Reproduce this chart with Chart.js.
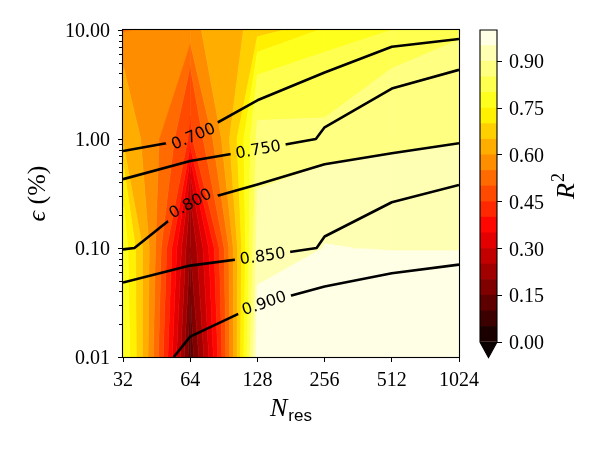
<!DOCTYPE html>
<html><head><meta charset="utf-8">
<script src="https://cdn.jsdelivr.net/npm/chart.js@4.4.0/dist/chart.umd.min.js"></script>
<style>
html,body{margin:0;padding:0;background:#fff;}
#wrap{position:relative;width:600px;height:450px;overflow:hidden;}
#main{position:absolute;left:0;top:0;}
#cbar{position:absolute;left:460px;top:0;}
</style></head><body>
<div id="wrap">
<canvas id="main" width="600" height="450"></canvas>
<canvas id="cbar" width="140" height="450"></canvas>
</div>
<script>
// ---------------- DATA ----------------
const nRes   = [32, 64, 128, 256, 512, 1024];     // grid columns (N_res)
const epsPct = [0.01, 0.1, 1, 10];                // grid rows (epsilon, %)

// R^2 (filled contours), one row per epsilon value, columns follow nRes
const r2_eps0_01 = [0.800, 0.120, 0.973, 0.975, 0.980, 0.980];
const r2_eps0_1  = [0.780, 0.200, 0.915, 0.951, 0.948, 0.948];
const r2_eps1    = [0.640, 0.440, 0.860, 0.856, 0.881, 0.895];
const r2_eps10   = [0.545, 0.590, 0.672, 0.760, 0.800, 0.838];

// overlaid quantity drawn as labelled black contour lines
const line_eps0_01 = [0.889, 0.905, 0.919, 0.929, 0.939, 0.949];
const line_eps0_1  = [0.797, 0.821, 0.834, 0.853, 0.867, 0.876];
const line_eps1    = [0.668, 0.7003, 0.726, 0.755, 0.773, 0.792];
const line_eps10   = [0.600, 0.600, 0.541, 0.594, 0.664, 0.678];

const fillLevels = [0.00,0.05,0.10,0.15,0.20,0.25,0.30,0.35,0.40,0.45,0.50,0.55,0.60,0.65,0.70,0.75,0.80,0.85,0.90,0.95,1.00];
const lineLevels = [0.70, 0.75, 0.80, 0.85, 0.90];

const xTickValues = [32, 64, 128, 256, 512, 1024];
const xTickLabels = ['32', '64', '128', '256', '512', '1024'];
const yTickValues = [0.01, 0.1, 1, 10];
const yTickLabels = ['0.01', '0.10', '1.00', '10.00'];
const cbarTickValues = [0.00, 0.15, 0.30, 0.45, 0.60, 0.75, 0.90];
const cbarTickLabels = ['0.00', '0.15', '0.30', '0.45', '0.60', '0.75', '0.90'];

// ---------------- layout / style ----------------
const labelAtN = [66, 129, 64, 135, 137];   // where the inline line labels sit (N_res)
const SERIF = "'Liberation Serif','DejaVu Serif',serif";
const SANS = "'DejaVu Sans',sans-serif";
const LABEL_FONT = '16px ' + SANS;

const r2Grid = [r2_eps0_01, r2_eps0_1, r2_eps1, r2_eps10];
const lineGrid = [line_eps0_01, line_eps0_1, line_eps1, line_eps10];

function hot(v){
  const a=0.365079, b=0.746032;
  const r = v<a ? 0.0416+(1-0.0416)*v/a : 1;
  const g = v<a ? 0 : (v<b ? (v-a)/(b-a) : 1);
  const bl = v<b ? 0 : (v-b)/(1-b);
  return 'rgb('+Math.round(r*255)+','+Math.round(g*255)+','+Math.round(bl*255)+')';
}

// marching squares (linear interpolation in data units, like matplotlib)
function edgePoint(A,B,level){
  let P=A,Q=B;
  if (A.x>B.x || (A.x===B.x && A.y>B.y)) { P=B; Q=A; }
  if ((P.v<level)===(Q.v<level)) return null;
  const t=(level-P.v)/(Q.v-P.v);
  return {x:P.x+t*(Q.x-P.x), y:P.y+t*(Q.y-P.y)};
}
function contourSegments(grid, level){
  const segs=[];
  for(let j=0;j<epsPct.length-1;j++) for(let i=0;i<nRes.length-1;i++){
    const c00={x:nRes[i],y:epsPct[j],v:grid[j][i]}, c10={x:nRes[i+1],y:epsPct[j],v:grid[j][i+1]};
    const c11={x:nRes[i+1],y:epsPct[j+1],v:grid[j+1][i+1]}, c01={x:nRes[i],y:epsPct[j+1],v:grid[j+1][i]};
    const e=[edgePoint(c00,c10,level),edgePoint(c10,c11,level),edgePoint(c11,c01,level),edgePoint(c01,c00,level)];
    const pts=e.filter(p=>p);
    if(pts.length===2) segs.push([pts[0],pts[1]]);
    else if(pts.length===4){
      const c=(c00.v+c10.v+c11.v+c01.v)/4;
      if((c<level)===(c00.v<level)){ segs.push([e[0],e[1]]); segs.push([e[2],e[3]]); }
      else { segs.push([e[0],e[3]]); segs.push([e[1],e[2]]); }
    }
  }
  return segs;
}
function chainSegments(segs){
  const key=p=>p.x.toPrecision(9)+','+p.y.toPrecision(9);
  const adj=new Map();
  segs.forEach((s,k)=>[0,1].forEach(e=>{const kk=key(s[e]); if(!adj.has(kk)) adj.set(kk,[]); adj.get(kk).push([k,e]);}));
  const used=segs.map(()=>false); const lines=[];
  function walk(k,e){
    const line=[segs[k][e]]; let cur=k, end=1-e;
    for(;;){ used[cur]=true; const p=segs[cur][end]; line.push(p);
      const nb=(adj.get(key(p))||[]).find(([kk])=>!used[kk]); if(!nb) break; cur=nb[0]; end=1-nb[1]; }
    return line;
  }
  for(let k=0;k<segs.length;k++){ if(used[k]) continue;
    for(const e of [0,1]){ if(!used[k] && adj.get(key(segs[k][e])).length===1) lines.push(walk(k,e)); } }
  for(let k=0;k<segs.length;k++) if(!used[k]) lines.push(walk(k,0));
  return lines;
}
function bandPolygon(corners, lo, hi){
  const out=[];
  for(let k=0;k<4;k++){
    const A=corners[k], B=corners[(k+1)%4];
    if(A.v>=lo && A.v<hi) out.push(A);
    const cr=[];
    for(const L of [lo,hi]){ if((A.v<L)!==(B.v<L)){ const t=(L-A.v)/(B.v-A.v); cr.push({t:t,x:A.x+t*(B.x-A.x),y:A.y+t*(B.y-A.y)}); } }
    cr.sort((a,b)=>a.t-b.t); cr.forEach(p=>out.push(p));
  }
  return out;
}

const contourLines = lineLevels.map(L=>chainSegments(contourSegments(lineGrid,L)));
const datasets=[];
contourLines.forEach((lines,li)=>lines.forEach(pts=>datasets.push({
  label:'contour '+lineLevels[li].toFixed(3), data:pts.map(p=>({x:p.x,y:p.y})),
  showLine:true, borderColor:'#000', borderWidth:2.6, pointRadius:0, pointHoverRadius:0,
  tension:0, fill:false, borderJoinStyle:'round', borderCapStyle:'butt'
})));

function polyAtX(pts, px){
  const s=pts.slice().sort((a,b)=>a.x-b.x);
  if(px<=s[0].x) return s[0].y;
  for(let k=0;k<s.length-1;k++){ const a=s[k], b=s[k+1];
    if(px>=a.x && px<=b.x){ return b.x===a.x ? a.y : a.y+(px-a.x)*(b.y-a.y)/(b.x-a.x); } }
  return s[s.length-1].y;
}

const mainPlugin = {
  id:'contourExtras',
  beforeDatasetsDraw(chart){
    const ctx=chart.ctx, a=chart.chartArea, xs=chart.scales.x, ys=chart.scales.y;
    const px=p=>({x:xs.getPixelForValue(p.x), y:ys.getPixelForValue(p.y)});
    // filled contours
    ctx.save();
    ctx.beginPath(); ctx.rect(a.left,a.top,a.right-a.left,a.bottom-a.top); ctx.clip();
    for(let j=0;j<epsPct.length-1;j++) for(let i=0;i<nRes.length-1;i++){
      const corners=[{x:nRes[i],y:epsPct[j],v:r2Grid[j][i]},{x:nRes[i+1],y:epsPct[j],v:r2Grid[j][i+1]},
                     {x:nRes[i+1],y:epsPct[j+1],v:r2Grid[j+1][i+1]},{x:nRes[i],y:epsPct[j+1],v:r2Grid[j+1][i]}];
      for(let b=0;b<fillLevels.length-1;b++){
        const lo=fillLevels[b], hi=(b===fillLevels.length-2)?fillLevels[b+1]+1e-9:fillLevels[b+1];
        const poly=bandPolygon(corners,lo,hi);
        if(poly.length<3) continue;
        const col=hot((fillLevels[b]+fillLevels[b+1])/2);
        ctx.beginPath();
        poly.forEach((p,k)=>{const q=px(p); if(k===0) ctx.moveTo(q.x,q.y); else ctx.lineTo(q.x,q.y);});
        ctx.closePath(); ctx.fillStyle=col; ctx.fill();
        ctx.strokeStyle=col; ctx.lineWidth=0.6; ctx.stroke();
      }
    }
    ctx.restore();
    // inline label positions and gaps
    ctx.save();
    ctx.font=LABEL_FONT;
    const labs=[];
    lineLevels.forEach((L,li)=>{
      const lines=contourLines[li]; if(!lines.length) return;
      const pts=lines[0].map(px);
      const cx=xs.getPixelForValue(labelAtN[li]);
      const text=L.toFixed(3);
      const w=ctx.measureText(text).width;
      const cy=polyAtX(pts,cx);
      const yl=polyAtX(pts,cx-w/2), yr=polyAtX(pts,cx+w/2);
      const ang=Math.atan2(yr-yl,w);
      labs.push({text,cx,cy,ang,w});
    });
    chart.$labs=labs;
    ctx.restore();
    ctx.save();
    ctx.beginPath(); ctx.rect(0,0,chart.width,chart.height);
    labs.forEach(l=>{
      const dx=Math.cos(l.ang), dy=Math.sin(l.ang), nx=-dy, ny=dx;
      const hw=l.w/2+5, hh=10;
      ctx.moveTo(l.cx-hw*dx-hh*nx, l.cy-hw*dy-hh*ny);
      ctx.lineTo(l.cx-hw*dx+hh*nx, l.cy-hw*dy+hh*ny);
      ctx.lineTo(l.cx+hw*dx+hh*nx, l.cy+hw*dy+hh*ny);
      ctx.lineTo(l.cx+hw*dx-hh*nx, l.cy+hw*dy-hh*ny);
      ctx.closePath();
    });
    ctx.clip('evenodd');
  },
  afterDatasetsDraw(chart){
    const ctx=chart.ctx, a=chart.chartArea, ys=chart.scales.y;
    ctx.restore();
    ctx.save();
    ctx.font=LABEL_FONT; ctx.fillStyle='#000'; ctx.textAlign='center'; ctx.textBaseline='middle';
    (chart.$labs||[]).forEach(l=>{ ctx.save(); ctx.translate(l.cx,l.cy); ctx.rotate(l.ang); ctx.fillText(l.text,0,1); ctx.restore(); });
    ctx.restore();
    ctx.save();
    ctx.strokeStyle='#000'; ctx.lineWidth=1.1;
    ctx.strokeRect(a.left-0.5,a.top-0.5,a.right-a.left+1,a.bottom-a.top+1);
    ctx.lineWidth=1;
    for(let d=0; d<yTickValues.length-1; d++){
      for(let m=2;m<=9;m++){
        const py=Math.round(ys.getPixelForValue(yTickValues[d]*m))+0.5;
        ctx.beginPath(); ctx.moveTo(a.left-1,py); ctx.lineTo(a.left-4,py); ctx.stroke();
      }
    }
    ctx.restore();
  },
  afterDraw(chart){
    const ctx=chart.ctx, a=chart.chartArea;
    ctx.save(); ctx.fillStyle='#000'; ctx.textBaseline='alphabetic';
    ctx.font='italic 26px '+SERIF; const wN=ctx.measureText('N').width;
    ctx.font='17px '+"'Liberation Sans',sans-serif"; const wr=ctx.measureText('res').width;
    const cx=(a.left+a.right)/2, x0=cx-(wN+wr+1)/2;
    ctx.font='italic 26px '+SERIF; ctx.textAlign='left'; ctx.fillText('N',x0,416);
    ctx.font='17px '+"'Liberation Sans',sans-serif"; ctx.fillText('res',x0+wN+1,421);
    ctx.save(); ctx.translate(45,(a.top+a.bottom)/2); ctx.rotate(-Math.PI/2);
    ctx.font='italic 26px '+SERIF; const we=ctx.measureText('\u03F5').width;
    ctx.font='26px '+SERIF; const wp=ctx.measureText(' (%)').width;
    const s0=-(we+wp)/2;
    ctx.font='italic 26px '+SERIF; ctx.fillText('\u03F5',s0,0);
    ctx.font='26px '+SERIF; ctx.fillText(' (%)',s0+we,0);
    ctx.restore();
    ctx.restore();
  }
};

new Chart(document.getElementById('main'), {
  type:'scatter',
  data:{datasets:datasets},
  options:{
    responsive:false, animation:false, devicePixelRatio:1,
    layout:{padding:{left:0,top:30,right:141,bottom:0}},
    plugins:{legend:{display:false}, tooltip:{enabled:false}},
    events:[],
    scales:{
      x:{type:'logarithmic', min:32, max:1024, position:'bottom',
        afterFit(s){ s.height=93; },
        afterBuildTicks(s){ s.ticks=xTickValues.map(v=>({value:v,major:true})); },
        ticks:{ callback:(v)=>{const k=xTickValues.indexOf(v); return k>=0?xTickLabels[k]:'';},
          font:{family:SERIF,size:20}, color:'#000', padding:7, maxRotation:0, autoSkip:false },
        grid:{display:true, drawOnChartArea:false, drawTicks:true, tickLength:5, color:'#000', lineWidth:1},
        border:{display:true,color:'#000',width:1}
      },
      y:{type:'logarithmic', min:0.01, max:10, position:'left',
        afterFit(s){ s.width=123; },
        afterBuildTicks(s){ s.ticks=yTickValues.map(v=>({value:v,major:true})); },
        ticks:{ callback:(v)=>{const k=yTickValues.findIndex(t=>Math.abs(t-v)<1e-12); return k>=0?yTickLabels[k]:'';},
          font:{family:SERIF,size:20}, color:'#000', padding:8, autoSkip:false, labelOffset:2 },
        grid:{display:true, drawOnChartArea:false, drawTicks:true, tickLength:5, color:'#000', lineWidth:1},
        border:{display:true,color:'#000',width:1}
      }
    }
  },
  plugins:[mainPlugin]
});

// ---------------- colour bar ----------------
const cbarPlugin = {
  id:'cbarExtras',
  afterDatasetsDraw(chart){
    const ctx=chart.ctx, a=chart.chartArea;
    const mid=(a.left+a.right)/2, tri=(a.bottom-a.top)*0.05;
    ctx.save();
    ctx.beginPath(); ctx.moveTo(a.left,a.bottom); ctx.lineTo(a.right,a.bottom); ctx.lineTo(mid,a.bottom+tri); ctx.closePath();
    ctx.fillStyle=hot(0); ctx.fill();
    ctx.beginPath(); ctx.moveTo(a.left,a.top); ctx.lineTo(a.right,a.top); ctx.lineTo(a.right,a.bottom);
    ctx.lineTo(mid,a.bottom+tri); ctx.lineTo(a.left,a.bottom); ctx.closePath();
    ctx.strokeStyle='#000'; ctx.lineWidth=1.1; ctx.stroke();
    ctx.restore();
  },
  afterDraw(chart){
    const ctx=chart.ctx, a=chart.chartArea;
    ctx.save(); ctx.fillStyle='#000'; ctx.textBaseline='alphabetic'; ctx.textAlign='left';
    ctx.translate(574-460,(a.top+a.bottom)/2); ctx.rotate(-Math.PI/2);
    ctx.font='italic 26px '+SERIF; const wR=ctx.measureText('R').width;
    ctx.font='18px '+SERIF; const w2=ctx.measureText('2').width;
    const s0=-(wR+w2+1)/2;
    ctx.font='italic 26px '+SERIF; ctx.fillText('R',s0,0);
    ctx.font='18px '+SERIF; ctx.fillText('2',s0+wR+1,-10);
    ctx.restore();
  }
};

new Chart(document.getElementById('cbar'), {
  type:'bar',
  data:{ labels:['R2'], datasets: fillLevels.slice(0,-1).map((lo,i)=>({
    label:lo.toFixed(2)+'-'+fillLevels[i+1].toFixed(2),
    data:[[lo, fillLevels[i+1]]], backgroundColor:hot((lo+fillLevels[i+1])/2),
    borderWidth:0, barPercentage:1, categoryPercentage:1, grouped:false })) },
  options:{
    responsive:false, animation:false, devicePixelRatio:1, events:[],
    layout:{padding:{left:20,top:30,bottom:108,right:0}},
    plugins:{legend:{display:false}, tooltip:{enabled:false}},
    scales:{
      x:{display:false},
      y:{position:'right', min:0, max:1,
        afterFit(s){ s.width=103; },
        afterBuildTicks(s){ s.ticks=cbarTickValues.map(v=>({value:v})); },
        ticks:{ callback:(v)=>{const k=cbarTickValues.findIndex(t=>Math.abs(t-v)<1e-9); return k>=0?cbarTickLabels[k]:'';},
          font:{family:SERIF,size:20}, color:'#000', padding:7, autoSkip:false, labelOffset:2 },
        grid:{display:true, drawOnChartArea:false, drawTicks:true, tickLength:5, color:'#000', lineWidth:1},
        border:{display:false}
      }
    }
  },
  plugins:[cbarPlugin]
});
</script>
</body></html>
